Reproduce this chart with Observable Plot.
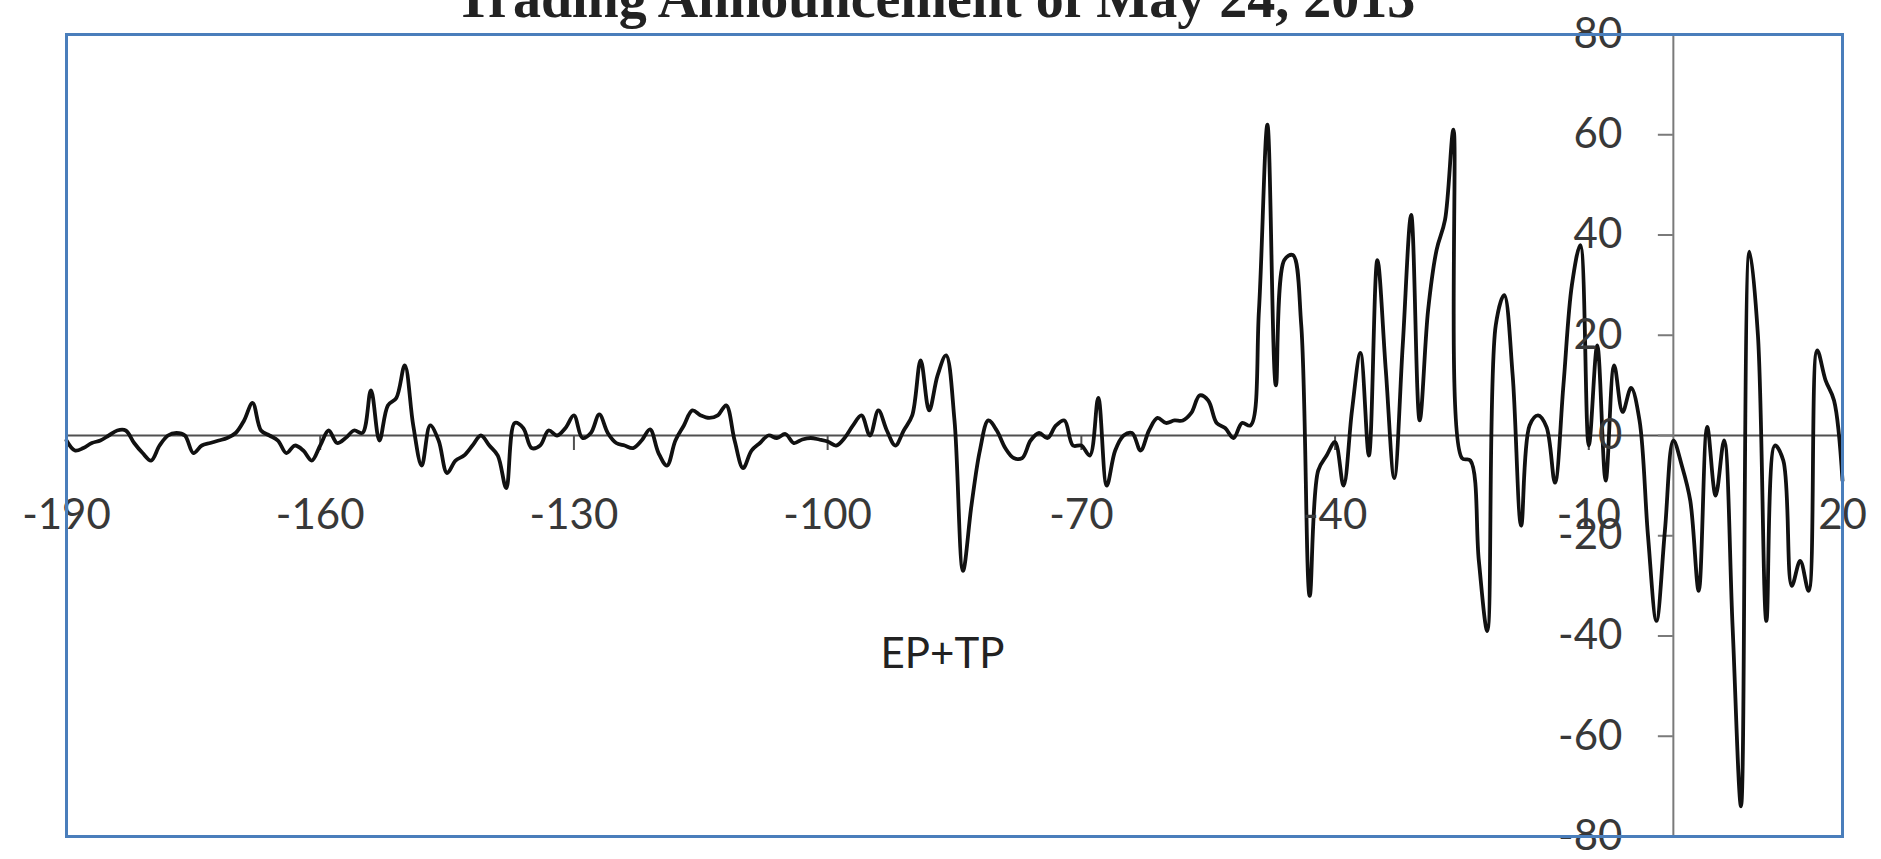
<!DOCTYPE html>
<html>
<head>
<meta charset="utf-8">
<script src="https://cdn.jsdelivr.net/npm/d3@7"></script>
<script src="https://cdn.jsdelivr.net/npm/@observablehq/plot@0.6"></script>
<style>
  html, body { margin: 0; padding: 0; background: #fff; overflow: hidden; }
  #wrap { position: relative; width: 1881px; height: 859px; }
  #title { position: absolute; left: 0; top: -30px; width: 1870px; text-align: center;
           font-family: "Liberation Serif", "DejaVu Serif", serif; font-weight: bold;
           font-size: 56px; line-height: 56px; color: #222; white-space: nowrap; }
  #chart { position: absolute; left: 0; top: 0; }
</style>
</head>
<body>
<div id="wrap">
  <div id="chart"></div>
  <div id="title">Trading Announcement of May 24, 2013</div>
</div>
<script>
// Event-window days (x) and the EP+TP series values
const firstDay = -190;
const lastDay = 20;
const epTp = [
  -1, -3, -2.5, -1.5, -1, 0, 1, 1, -1.5, -3.5,        // -190..-181
  -5, -2, 0, 0.5, 0, -3.5, -2, -1.5, -1, -0.5,        // -180..-171
  0.5, 3, 6.5, 1, 0, -1, -3.5, -2, -3, -5,            // -170..-161
  -2, 1, -1.5, -0.5, 1, 0.5, 9, -1, 6, 7.5,           // -160..-151
  14, 2, -6, 2, -1, -7.5, -5, -4, -2, 0,              // -150..-141
  -2, -4, -10.5, 2.5, 1.5, -2.5, -2, 1, 0, 1.5,       // -140..-131
  4, -0.5, 0.5, 4.2, 0.5, -1.5, -2, -2.5, -1, 1.2,    // -130..-121
  -3.5, -6, -1, 2, 5, 4, 3.5, 4, 6, -1,               // -120..-111
  -6.5, -3, -1.5, 0, -0.5, 0.3, -1.5, -0.8, -0.5, -0.8, // -110..-101
  -1.2, -2, -0.5, 2, 4, 0, 5, 1, -2, 1,               // -100..-91
  4, 15, 5, 12, 16, 3, -27, -14, -3, 3,               // -90..-81
  1, -2.5, -4.5, -4.5, -1, 0.5, -0.5, 2, 3, -2,       // -80..-71
  -2, -4, 7.5, -10, -3, 0, 0.5, -3, 1, 3.5,           // -70..-61
  2.5, 3, 3, 4.5, 8, 7, 2.5, 1.5, -0.5, 2.5,          // -60..-51
  2, 25, 62, 10, 35, 36, 22, -32, -7, -4,             // -50..-41
  -1.3, -10, 5, 16.5, -4, 35, 13, -8.5, 18, 44,       // -40..-31
  3, 25, 37, 43, 61, -4.5, -5, -25, -39, 22,          // -30..-21
  28, 12, -18, 2, 4, 1.7, -9.4, 10, 30, 38,           // -20..-11
  -2, 18, -9, 14, 4.7, 9.5, 3, -20, -37, -19,         // -10..-1
  -1, -6, -13, -31, 1.7, -12, -1, -38, -74, 36.7,     // 0..9
  20, -37, -2, -5, -30, -25, -31, 17, 11, 7, -9       // 10..20
];
const days = d3.range(firstDay, lastDay + 1);
const xTicks = [-190, -160, -130, -100, -70, -40, -10, 20];
const yTicks = [-80, -60, -40, -20, 0, 20, 40, 60, 80];
const seriesLabel = "EP+TP";

const data = days.map((d, i) => ({day: d, value: epTp[i]}));
const labelFont = "Lato, 'Open Sans', sans-serif";

const chart = Plot.plot({
  width: 1881,
  height: 859,
  marginLeft: 66,
  marginRight: 39,
  marginTop: 34,
  marginBottom: 23,
  x: {domain: [firstDay, lastDay], axis: null},
  y: {domain: [-80, 80], axis: null},
  style: {background: "transparent"},
  marks: [
    Plot.ruleY([0], {stroke: "#505050", strokeWidth: 2}),
    Plot.ruleX([0], {stroke: "#7a7a7a", strokeWidth: 2}),
    Plot.ruleY(yTicks, {y: d => d, x1: 0, x2: 0, insetLeft: -15, stroke: "#7a7a7a", strokeWidth: 2}),
    Plot.ruleX(xTicks, {x: d => d, y1: 0, y2: 0, insetTop: 15, stroke: "#505050", strokeWidth: 2}),
    Plot.line(data, {x: "day", y: "value", stroke: "#111", strokeWidth: 3.8, curve: "catmull-rom"}),
    Plot.text(xTicks, {x: d => d, y: 0, dy: 80, text: d => String(d), fontSize: 42,
      fontFamily: labelFont, fill: "#383838"}),
    Plot.text(yTicks, {x: 0, y: d => d, dx: -51, text: d => String(d), textAnchor: "end",
      fontSize: 42, fontFamily: labelFont, fill: "#383838"}),
    Plot.text([seriesLabel], {frameAnchor: "middle", dx: -12, dy: 219, text: d => d,
      fontSize: 42, fontFamily: labelFont, fill: "#222"}),
    Plot.frame({stroke: "#4a7ebb", strokeWidth: 3})
  ]
});
document.getElementById("chart").appendChild(chart);
</script>
</body>
</html>
